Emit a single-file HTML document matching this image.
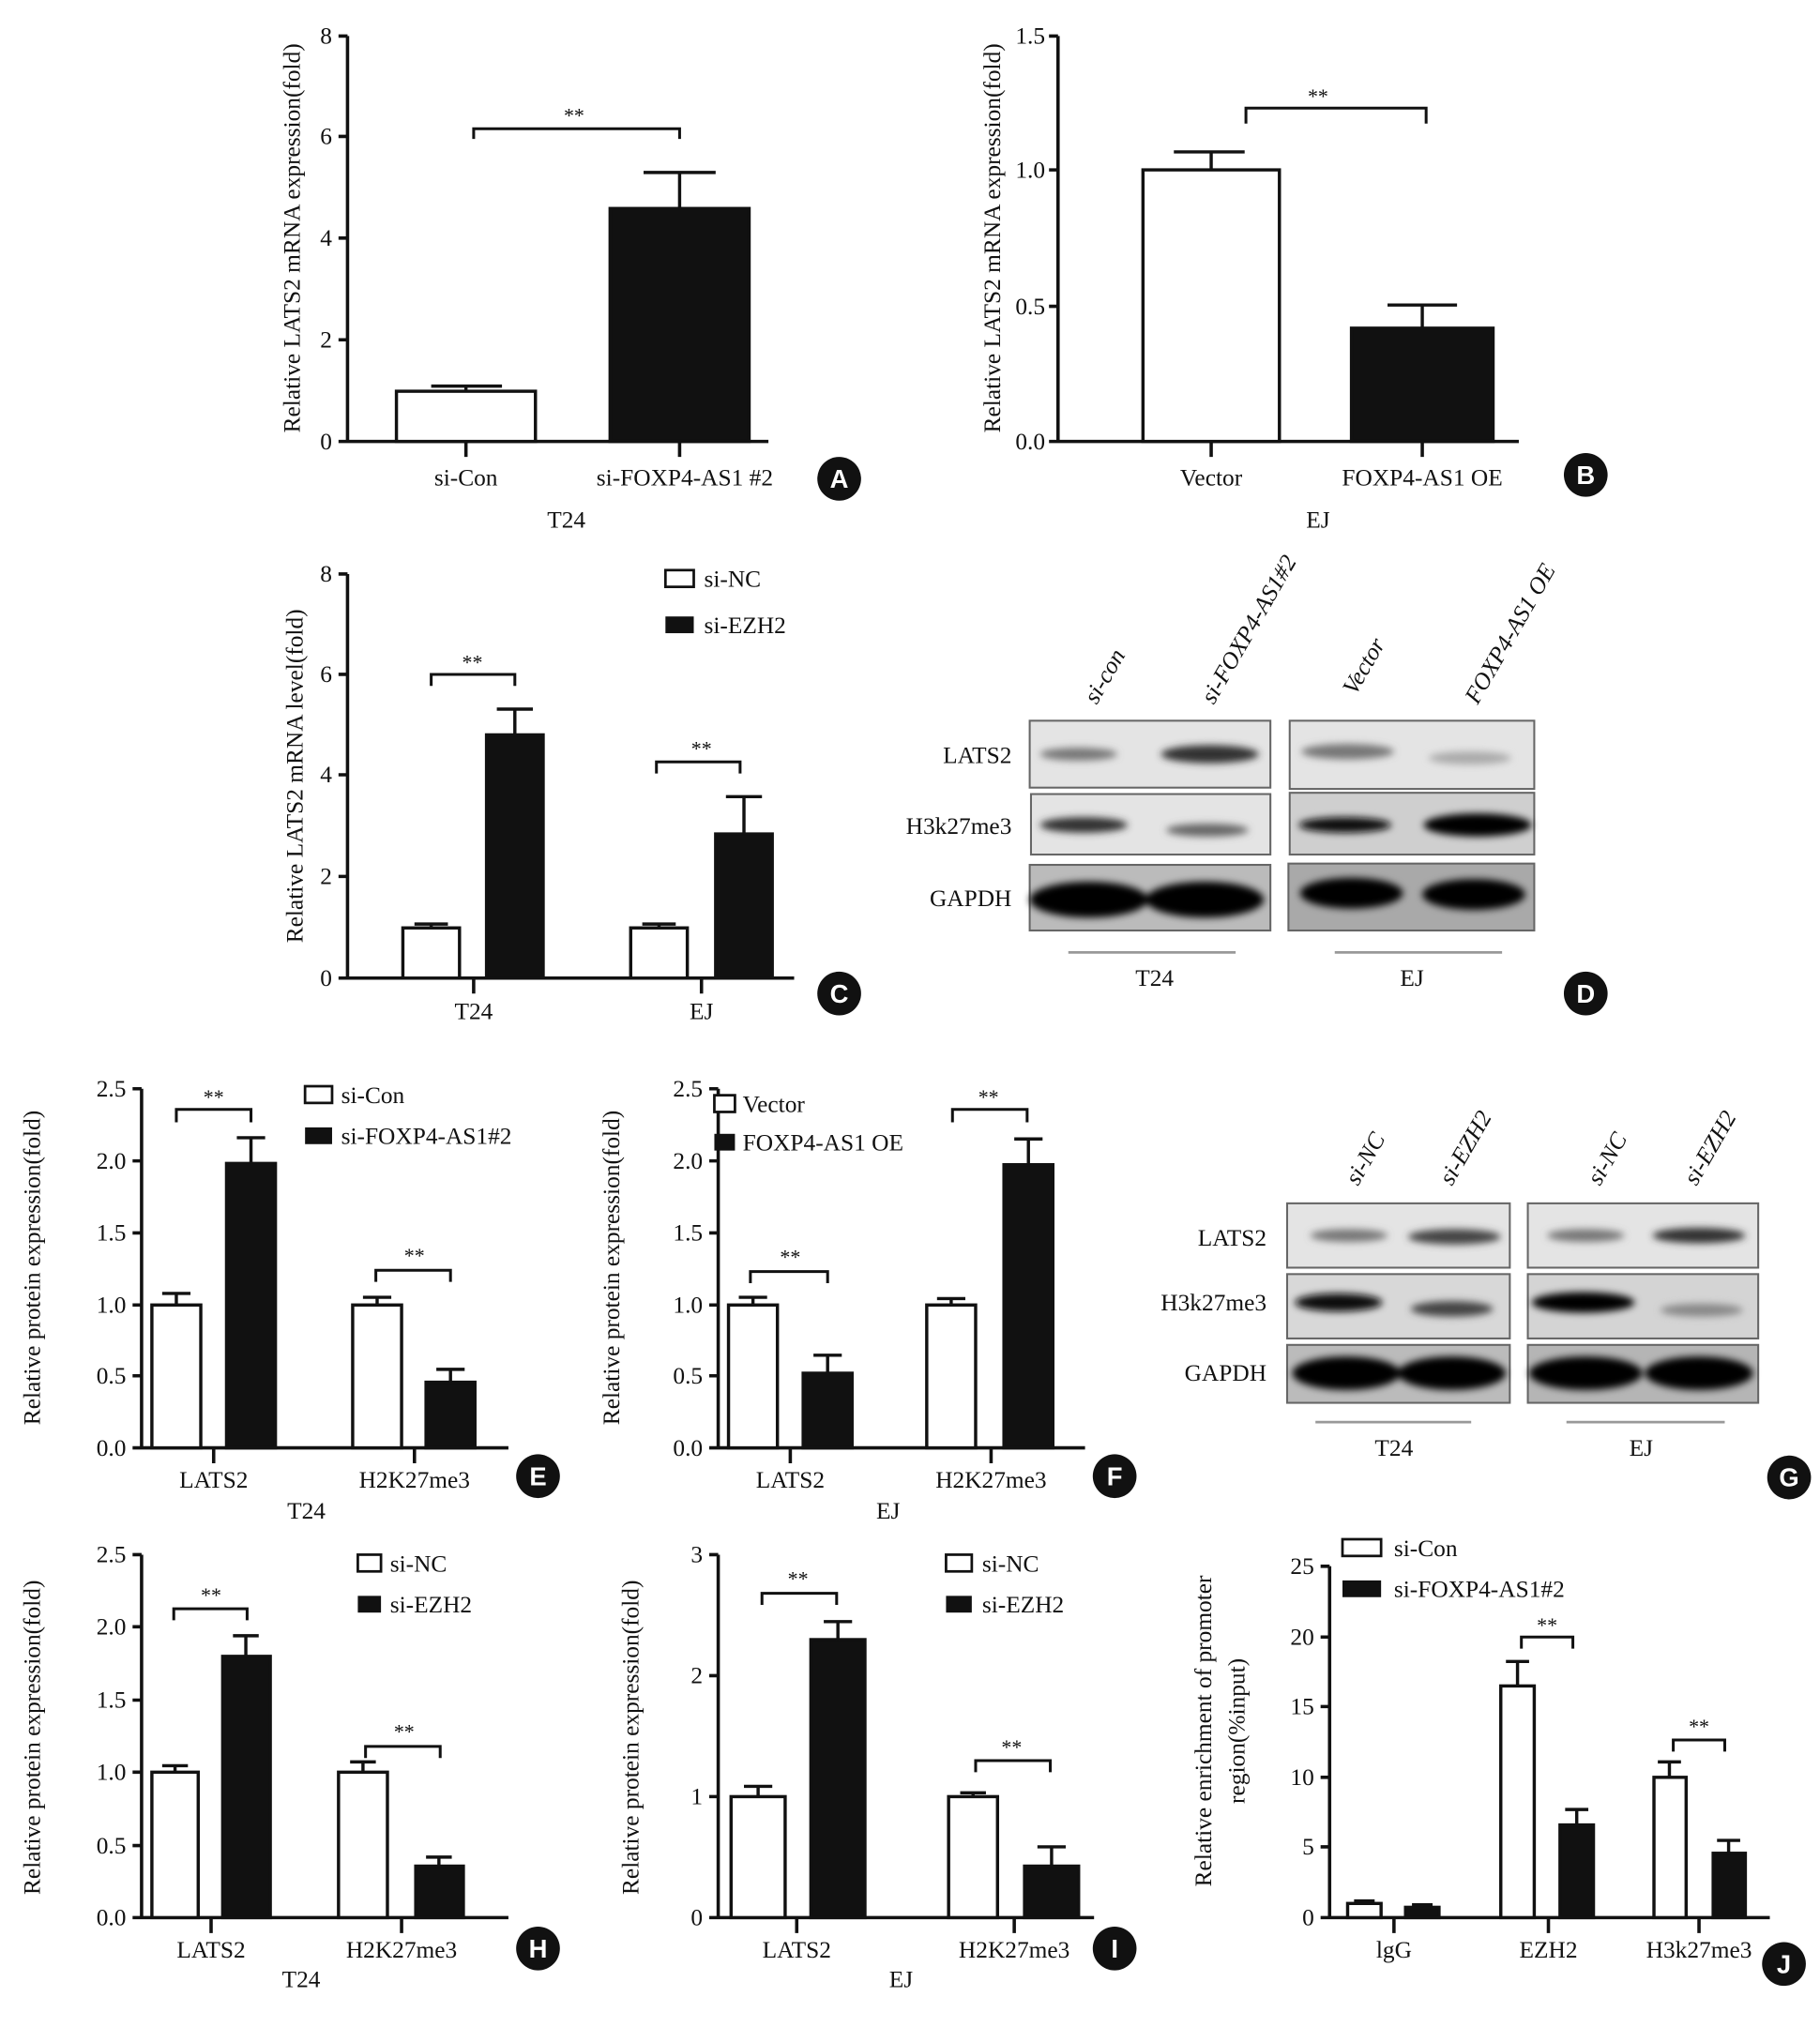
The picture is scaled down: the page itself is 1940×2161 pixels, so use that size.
<!DOCTYPE html>
<html><head><meta charset="utf-8"><style>
html,body{margin:0;padding:0;background:#fff;}
svg{display:block;}
text{font-family:"Liberation Serif",serif;fill:#111;}
.t{font-size:18.5px;}
.s{font-size:16px;}
.ax{stroke:#111;stroke-width:2.6;fill:none;}
.wb{fill:#fff;stroke:#111;stroke-width:2.5;}
.bb{fill:#111;stroke:#111;stroke-width:2.5;}
.eb{stroke:#111;stroke-width:2.5;fill:none;}
.br{stroke:#111;stroke-width:2.2;fill:none;}
.cl{fill:#111;}
.ct{font-family:"Liberation Sans",sans-serif;font-size:20px;fill:#fff;font-weight:bold;}
.blot{fill:#e4e4e4;stroke:#666;stroke-width:1.5;}
</style></head><body>
<svg width="1940" height="2161" viewBox="0 0 1414 1575" preserveAspectRatio="none" xmlns="http://www.w3.org/2000/svg">
<defs><filter id="bl" x="-20%" y="-100%" width="140%" height="300%"><feGaussianBlur stdDeviation="3"/></filter></defs>

<!-- Panel A -->
<g>
<path class="ax" d="M270,28 V343 M263,343 H597 M263,28H270 M263,106H270 M263,185H270 M263,264H270 M362,343V355 M528,343V355"/>
<text class="t" x="258" y="34" text-anchor="end">8</text>
<text class="t" x="258" y="112" text-anchor="end">6</text>
<text class="t" x="258" y="191" text-anchor="end">4</text>
<text class="t" x="258" y="270" text-anchor="end">2</text>
<text class="t" x="258" y="349" text-anchor="end">0</text>
<rect class="wb" x="308" y="304" width="108" height="39"/>
<path class="eb" d="M362,304V300 M335,300H390"/>
<rect class="bb" x="474" y="162" width="108" height="181"/>
<path class="eb" d="M528,162V134 M500,134H556"/>
<path class="br" d="M368,108V100H528V108"/>
<text class="s" x="446" y="95" text-anchor="middle">**</text>
<text class="t" x="362" y="377" text-anchor="middle">si-Con</text>
<text class="t" x="532" y="377" text-anchor="middle">si-FOXP4-AS1 #2</text>
<text class="t" x="440" y="410" text-anchor="middle">T24</text>
<text class="t" transform="translate(233,185) rotate(-90)" text-anchor="middle">Relative LATS2 mRNA expression(fold)</text>
<circle class="cl" cx="652" cy="372" r="17"/><text class="ct" x="652" y="379" text-anchor="middle">A</text>
</g>

<!-- Panel B -->
<g>
<path class="ax" d="M822,28V343 M815,343H1180 M815,28H822 M815,132H822 M815,238H822 M941,343V355 M1105,343V355"/>
<text class="t" x="812" y="34" text-anchor="end">1.5</text>
<text class="t" x="812" y="138" text-anchor="end">1.0</text>
<text class="t" x="812" y="244" text-anchor="end">0.5</text>
<text class="t" x="812" y="349" text-anchor="end">0.0</text>
<rect class="wb" x="888" y="132" width="106" height="211"/>
<path class="eb" d="M941,132V118 M912,118H967"/>
<rect class="bb" x="1050" y="255" width="110" height="88"/>
<path class="eb" d="M1105,255V237 M1078,237H1132"/>
<path class="br" d="M968,96V84H1108V96"/>
<text class="s" x="1024" y="80" text-anchor="middle">**</text>
<text class="t" x="941" y="377" text-anchor="middle">Vector</text>
<text class="t" x="1105" y="377" text-anchor="middle">FOXP4-AS1 OE</text>
<text class="t" x="1024" y="410" text-anchor="middle">EJ</text>
<text class="t" transform="translate(777,185) rotate(-90)" text-anchor="middle">Relative LATS2 mRNA expression(fold)</text>
<circle class="cl" cx="1232" cy="369" r="17"/><text class="ct" x="1232" y="376" text-anchor="middle">B</text>
</g>

<!-- Panel C -->
<g>
<path class="ax" d="M270,446V760 M263,760H617 M263,446H270 M263,524H270 M263,602H270 M263,681H270 M368,760V772 M545,760V772"/>
<text class="t" x="258" y="452" text-anchor="end">8</text>
<text class="t" x="258" y="530" text-anchor="end">6</text>
<text class="t" x="258" y="608" text-anchor="end">4</text>
<text class="t" x="258" y="687" text-anchor="end">2</text>
<text class="t" x="258" y="766" text-anchor="end">0</text>
<rect class="wb" x="313" y="721" width="44" height="39"/><path class="eb" d="M335,721V718 M322,718H348"/>
<rect class="bb" x="378" y="571" width="44" height="189"/><path class="eb" d="M400,571V551 M386,551H414"/>
<rect class="wb" x="490" y="721" width="44" height="39"/><path class="eb" d="M512,721V718 M499,718H525"/>
<rect class="bb" x="556" y="648" width="44" height="112"/><path class="eb" d="M578,648V619 M564,619H592"/>
<path class="br" d="M335,533V524H400V533"/><text class="s" x="367" y="520" text-anchor="middle">**</text>
<path class="br" d="M510,601V592H575V601"/><text class="s" x="545" y="587" text-anchor="middle">**</text>
<rect x="517" y="443" width="22" height="13" fill="#fff" stroke="#111" stroke-width="2"/><text class="t" x="547" y="456">si-NC</text>
<rect x="517" y="479" width="22" height="13" fill="#111"/><text class="t" x="547" y="492">si-EZH2</text>
<text class="t" x="368" y="792" text-anchor="middle">T24</text>
<text class="t" x="545" y="792" text-anchor="middle">EJ</text>
<text class="t" transform="translate(235,603) rotate(-90)" text-anchor="middle">Relative LATS2 mRNA level(fold)</text>
<circle class="cl" cx="652" cy="772" r="17"/><text class="ct" x="652" y="779" text-anchor="middle">C</text>
</g>

<!-- Panel D -->
<g>
<rect class="blot" x="800" y="560" width="187" height="52"/><rect class="blot" x="1002" y="560" width="190" height="53"/>
<rect class="blot" x="801" y="617" width="186" height="47" fill="#ddd"/><rect class="blot" x="1002" y="616" width="190" height="48" style="fill:#cfcfcf"/>
<rect class="blot" x="800" y="672" width="187" height="51" style="fill:#bbb"/><rect class="blot" x="1001" y="671" width="191" height="52" style="fill:#a9a9a9"/>
<g filter="url(#bl)">
<ellipse cx="838" cy="586" rx="30" ry="5" fill="#777"/><ellipse cx="940" cy="586" rx="38" ry="7" fill="#333"/>
<ellipse cx="1047" cy="584" rx="36" ry="6" fill="#777"/><ellipse cx="1142" cy="589" rx="32" ry="5" fill="#aaa"/>
<ellipse cx="842" cy="641" rx="34" ry="6" fill="#333"/><ellipse cx="938" cy="645" rx="32" ry="5" fill="#666"/>
<ellipse cx="1045" cy="641" rx="36" ry="6" fill="#111"/><ellipse cx="1148" cy="641" rx="42" ry="9" fill="#000"/>
<ellipse cx="846" cy="699" rx="46" ry="14" fill="#000"/><ellipse cx="936" cy="699" rx="46" ry="14" fill="#000"/>
<ellipse cx="1050" cy="694" rx="40" ry="12" fill="#000"/><ellipse cx="1145" cy="695" rx="40" ry="12" fill="#000"/>
</g>
<text class="t" x="786" y="593" text-anchor="end">LATS2</text>
<text class="t" x="786" y="648" text-anchor="end">H3k27me3</text>
<text class="t" x="786" y="704" text-anchor="end">GAPDH</text>
<text class="t" transform="translate(852,548) rotate(-60)" font-style="italic">si-con</text>
<text class="t" transform="translate(943,548) rotate(-60)" font-style="italic">si-FOXP4-AS1#2</text>
<text class="t" transform="translate(1053,541) rotate(-60)" font-style="italic">Vector</text>
<text class="t" transform="translate(1148,548) rotate(-60)" font-style="italic">FOXP4-AS1 OE</text>
<path d="M830,740H960 M1037,740H1167" stroke="#999" stroke-width="2"/>
<text class="t" x="897" y="766" text-anchor="middle">T24</text>
<text class="t" x="1097" y="766" text-anchor="middle">EJ</text>
<circle class="cl" cx="1232" cy="772" r="17"/><text class="ct" x="1232" y="779" text-anchor="middle">D</text>
</g>

<!-- Panel E -->
<g>
<path class="ax" d="M110,846V1125 M103,1125H395 M103,846H110 M103,902H110 M103,958H110 M103,1014H110 M103,1069H110 M166,1125V1137 M322,1125V1137"/>
<text class="t" x="98" y="852" text-anchor="end">2.5</text>
<text class="t" x="98" y="908" text-anchor="end">2.0</text>
<text class="t" x="98" y="964" text-anchor="end">1.5</text>
<text class="t" x="98" y="1020" text-anchor="end">1.0</text>
<text class="t" x="98" y="1075" text-anchor="end">0.5</text>
<text class="t" x="98" y="1131" text-anchor="end">0.0</text>
<rect class="wb" x="118" y="1014" width="38" height="111"/><path class="eb" d="M137,1014V1005 M126,1005H148"/>
<rect class="bb" x="176" y="904" width="38" height="221"/><path class="eb" d="M195,904V884 M184,884H206"/>
<rect class="wb" x="274" y="1014" width="38" height="111"/><path class="eb" d="M293,1014V1008 M282,1008H304"/>
<rect class="bb" x="331" y="1074" width="38" height="51"/><path class="eb" d="M350,1074V1064 M339,1064H361"/>
<path class="br" d="M137,872V862H195V872"/><text class="s" x="166" y="858" text-anchor="middle">**</text>
<path class="br" d="M292,996V987H350V996"/><text class="s" x="322" y="981" text-anchor="middle">**</text>
<rect x="237" y="844" width="21" height="13" fill="#fff" stroke="#111" stroke-width="2"/><text class="t" x="265" y="857">si-Con</text>
<rect x="237" y="876" width="21" height="13" fill="#111"/><text class="t" x="265" y="889">si-FOXP4-AS1#2</text>
<text class="t" x="166" y="1156" text-anchor="middle">LATS2</text>
<text class="t" x="322" y="1156" text-anchor="middle">H2K27me3</text>
<text class="t" x="238" y="1180" text-anchor="middle">T24</text>
<text class="t" transform="translate(31,985) rotate(-90)" text-anchor="middle">Relative protein expression(fold)</text>
<circle class="cl" cx="418" cy="1147" r="17"/><text class="ct" x="418" y="1154" text-anchor="middle">E</text>
</g>

<!-- Panel F -->
<g>
<path class="ax" d="M558,846V1125 M551,1125H843 M551,846H558 M551,902H558 M551,958H558 M551,1014H558 M551,1069H558 M614,1125V1137 M770,1125V1137"/>
<text class="t" x="546" y="852" text-anchor="end">2.5</text>
<text class="t" x="546" y="908" text-anchor="end">2.0</text>
<text class="t" x="546" y="964" text-anchor="end">1.5</text>
<text class="t" x="546" y="1020" text-anchor="end">1.0</text>
<text class="t" x="546" y="1075" text-anchor="end">0.5</text>
<text class="t" x="546" y="1131" text-anchor="end">0.0</text>
<rect class="wb" x="566" y="1014" width="38" height="111"/><path class="eb" d="M585,1014V1008 M574,1008H596"/>
<rect class="bb" x="624" y="1067" width="38" height="58"/><path class="eb" d="M643,1067V1053 M632,1053H654"/>
<rect class="wb" x="720" y="1014" width="38" height="111"/><path class="eb" d="M739,1014V1009 M728,1009H750"/>
<rect class="bb" x="780" y="905" width="38" height="220"/><path class="eb" d="M799,905V885 M788,885H810"/>
<path class="br" d="M583,997V988H643V997"/><text class="s" x="614" y="982" text-anchor="middle">**</text>
<path class="br" d="M740,872V862H798V872"/><text class="s" x="768" y="858" text-anchor="middle">**</text>
<rect x="555" y="851" width="16" height="13" fill="#fff" stroke="#111" stroke-width="2"/><text class="t" x="577" y="864">Vector</text>
<rect x="555" y="881" width="16" height="13" fill="#111"/><text class="t" x="577" y="894">FOXP4-AS1 OE</text>
<text class="t" x="614" y="1156" text-anchor="middle">LATS2</text>
<text class="t" x="770" y="1156" text-anchor="middle">H2K27me3</text>
<text class="t" x="690" y="1180" text-anchor="middle">EJ</text>
<text class="t" transform="translate(481,985) rotate(-90)" text-anchor="middle">Relative protein expression(fold)</text>
<circle class="cl" cx="866" cy="1147" r="17"/><text class="ct" x="866" y="1154" text-anchor="middle">F</text>
</g>

<!-- Panel G -->
<g>
<rect class="blot" x="1000" y="935" width="173" height="50"/><rect class="blot" x="1187" y="935" width="179" height="50"/>
<rect class="blot" x="1000" y="990" width="173" height="50" style="fill:#d8d8d8"/><rect class="blot" x="1187" y="990" width="179" height="50" style="fill:#d4d4d4"/>
<rect class="blot" x="1000" y="1045" width="173" height="45" style="fill:#bbb"/><rect class="blot" x="1187" y="1045" width="179" height="45" style="fill:#b5b5b5"/>
<g filter="url(#bl)">
<ellipse cx="1048" cy="960" rx="30" ry="5" fill="#777"/><ellipse cx="1130" cy="961" rx="36" ry="6" fill="#444"/>
<ellipse cx="1232" cy="960" rx="30" ry="5" fill="#777"/><ellipse cx="1320" cy="960" rx="36" ry="6" fill="#333"/>
<ellipse cx="1040" cy="1012" rx="34" ry="7" fill="#111"/><ellipse cx="1128" cy="1017" rx="32" ry="6" fill="#444"/>
<ellipse cx="1230" cy="1012" rx="40" ry="8" fill="#000"/><ellipse cx="1322" cy="1018" rx="32" ry="5" fill="#888"/>
<ellipse cx="1046" cy="1067" rx="42" ry="13" fill="#000"/><ellipse cx="1128" cy="1067" rx="42" ry="13" fill="#000"/>
<ellipse cx="1232" cy="1067" rx="44" ry="13" fill="#000"/><ellipse cx="1320" cy="1067" rx="42" ry="13" fill="#000"/>
</g>
<text class="t" x="984" y="968" text-anchor="end">LATS2</text>
<text class="t" x="984" y="1018" text-anchor="end">H3k27me3</text>
<text class="t" x="984" y="1073" text-anchor="end">GAPDH</text>
<text class="t" transform="translate(1055,922) rotate(-60)" font-style="italic">si-NC</text>
<text class="t" transform="translate(1128,922) rotate(-60)" font-style="italic">si-EZH2</text>
<text class="t" transform="translate(1243,922) rotate(-60)" font-style="italic">si-NC</text>
<text class="t" transform="translate(1318,922) rotate(-60)" font-style="italic">si-EZH2</text>
<path d="M1022,1105H1143 M1217,1105H1340" stroke="#999" stroke-width="2"/>
<text class="t" x="1083" y="1131" text-anchor="middle">T24</text>
<text class="t" x="1275" y="1131" text-anchor="middle">EJ</text>
<circle class="cl" cx="1390" cy="1148" r="17"/><text class="ct" x="1390" y="1155" text-anchor="middle">G</text>
</g>

<!-- Panel H -->
<g>
<path class="ax" d="M110,1208V1490 M103,1490H395 M103,1208H110 M103,1264H110 M103,1321H110 M103,1377H110 M103,1434H110 M164,1490V1502 M312,1490V1502"/>
<text class="t" x="98" y="1214" text-anchor="end">2.5</text>
<text class="t" x="98" y="1270" text-anchor="end">2.0</text>
<text class="t" x="98" y="1327" text-anchor="end">1.5</text>
<text class="t" x="98" y="1383" text-anchor="end">1.0</text>
<text class="t" x="98" y="1440" text-anchor="end">0.5</text>
<text class="t" x="98" y="1496" text-anchor="end">0.0</text>
<rect class="wb" x="118" y="1377" width="36" height="113"/><path class="eb" d="M136,1377V1372 M126,1372H146"/>
<rect class="bb" x="173" y="1287" width="37" height="203"/><path class="eb" d="M191,1287V1271 M181,1271H201"/>
<rect class="wb" x="263" y="1377" width="38" height="113"/><path class="eb" d="M282,1377V1369 M272,1369H292"/>
<rect class="bb" x="323" y="1450" width="37" height="40"/><path class="eb" d="M341,1450V1443 M331,1443H351"/>
<path class="br" d="M135,1259V1250H192V1259"/><text class="s" x="164" y="1245" text-anchor="middle">**</text>
<path class="br" d="M284,1366V1357H342V1366"/><text class="s" x="314" y="1351" text-anchor="middle">**</text>
<rect x="278" y="1208" width="18" height="13" fill="#fff" stroke="#111" stroke-width="2"/><text class="t" x="303" y="1221">si-NC</text>
<rect x="278" y="1240" width="18" height="13" fill="#111"/><text class="t" x="303" y="1253">si-EZH2</text>
<text class="t" x="164" y="1521" text-anchor="middle">LATS2</text>
<text class="t" x="312" y="1521" text-anchor="middle">H2K27me3</text>
<text class="t" x="234" y="1544" text-anchor="middle">T24</text>
<text class="t" transform="translate(31,1350) rotate(-90)" text-anchor="middle">Relative protein expression(fold)</text>
<circle class="cl" cx="418" cy="1514" r="17"/><text class="ct" x="418" y="1521" text-anchor="middle">H</text>
</g>

<!-- Panel I -->
<g>
<path class="ax" d="M558,1208V1490 M551,1490H850 M551,1208H558 M551,1302H558 M551,1396H558 M619,1490V1502 M788,1490V1502"/>
<text class="t" x="546" y="1214" text-anchor="end">3</text>
<text class="t" x="546" y="1308" text-anchor="end">2</text>
<text class="t" x="546" y="1402" text-anchor="end">1</text>
<text class="t" x="546" y="1496" text-anchor="end">0</text>
<rect class="wb" x="568" y="1396" width="42" height="94"/><path class="eb" d="M589,1396V1388 M578,1388H600"/>
<rect class="bb" x="630" y="1274" width="42" height="216"/><path class="eb" d="M651,1274V1260 M640,1260H662"/>
<rect class="wb" x="737" y="1396" width="38" height="94"/><path class="eb" d="M756,1396V1393 M746,1393H766"/>
<rect class="bb" x="796" y="1450" width="42" height="40"/><path class="eb" d="M817,1450V1435 M806,1435H828"/>
<path class="br" d="M592,1247V1238H650V1247"/><text class="s" x="620" y="1232" text-anchor="middle">**</text>
<path class="br" d="M758,1377V1368H816V1377"/><text class="s" x="786" y="1363" text-anchor="middle">**</text>
<rect x="735" y="1208" width="20" height="13" fill="#fff" stroke="#111" stroke-width="2"/><text class="t" x="763" y="1221">si-NC</text>
<rect x="735" y="1240" width="20" height="13" fill="#111"/><text class="t" x="763" y="1253">si-EZH2</text>
<text class="t" x="619" y="1521" text-anchor="middle">LATS2</text>
<text class="t" x="788" y="1521" text-anchor="middle">H2K27me3</text>
<text class="t" x="700" y="1544" text-anchor="middle">EJ</text>
<text class="t" transform="translate(496,1350) rotate(-90)" text-anchor="middle">Relative protein expression(fold)</text>
<circle class="cl" cx="866" cy="1514" r="17"/><text class="ct" x="866" y="1521" text-anchor="middle">I</text>
</g>

<!-- Panel J -->
<g>
<path class="ax" d="M1033,1217V1490 M1026,1490H1375 M1026,1217H1033 M1026,1272H1033 M1026,1326H1033 M1026,1381H1033 M1026,1435H1033 M1083,1490V1502 M1203,1490V1502 M1320,1490V1502"/>
<text class="t" x="1021" y="1223" text-anchor="end">25</text>
<text class="t" x="1021" y="1278" text-anchor="end">20</text>
<text class="t" x="1021" y="1332" text-anchor="end">15</text>
<text class="t" x="1021" y="1387" text-anchor="end">10</text>
<text class="t" x="1021" y="1441" text-anchor="end">5</text>
<text class="t" x="1021" y="1496" text-anchor="end">0</text>
<rect class="wb" x="1047" y="1479" width="26" height="11"/><path class="eb" d="M1060,1479V1477 M1052,1477H1068"/>
<rect class="bb" x="1092" y="1482" width="26" height="8"/><path class="eb" d="M1105,1482V1480 M1097,1480H1113"/>
<rect class="wb" x="1166" y="1310" width="26" height="180"/><path class="eb" d="M1179,1310V1291 M1170,1291H1188"/>
<rect class="bb" x="1212" y="1418" width="26" height="72"/><path class="eb" d="M1225,1418V1406 M1216,1406H1234"/>
<rect class="wb" x="1285" y="1381" width="25" height="109"/><path class="eb" d="M1297,1381V1369 M1288,1369H1306"/>
<rect class="bb" x="1331" y="1440" width="25" height="50"/><path class="eb" d="M1343,1440V1430 M1334,1430H1352"/>
<path class="br" d="M1182,1281V1272H1222V1281"/><text class="s" x="1202" y="1268" text-anchor="middle">**</text>
<path class="br" d="M1300,1361V1352H1340V1361"/><text class="s" x="1320" y="1347" text-anchor="middle">**</text>
<rect x="1043" y="1196" width="30" height="13" fill="#fff" stroke="#111" stroke-width="2"/><text class="t" x="1083" y="1209">si-Con</text>
<rect x="1043" y="1228" width="30" height="13" fill="#111"/><text class="t" x="1083" y="1241">si-FOXP4-AS1#2</text>
<text class="t" x="1083" y="1521" text-anchor="middle">lgG</text>
<text class="t" x="1203" y="1521" text-anchor="middle">EZH2</text>
<text class="t" x="1320" y="1521" text-anchor="middle">H3k27me3</text>
<text class="t" transform="translate(941,1345) rotate(-90)" text-anchor="middle">Relative enrichment of promoter</text>
<text class="t" transform="translate(967,1345) rotate(-90)" text-anchor="middle">region(%input)</text>
<circle class="cl" cx="1386" cy="1526" r="17"/><text class="ct" x="1386" y="1533" text-anchor="middle">J</text>
</g>
</svg>
</body></html>
